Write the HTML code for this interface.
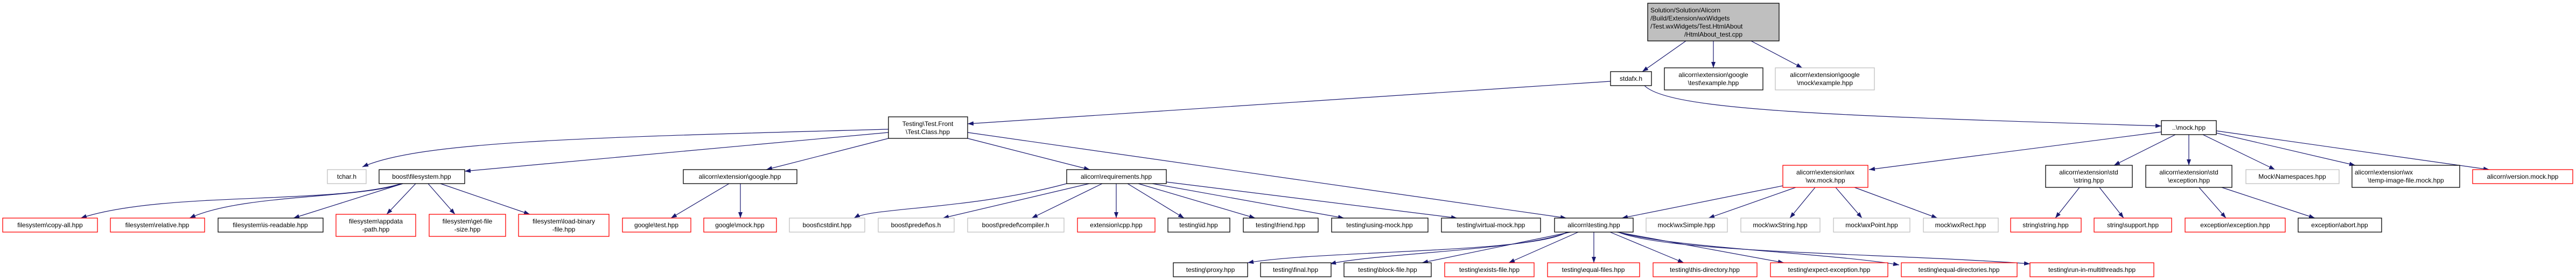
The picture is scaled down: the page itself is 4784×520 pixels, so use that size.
<!DOCTYPE html>
<html><head><meta charset="utf-8"><style>
html,body{margin:0;padding:0;background:#fff;width:4784px;height:520px;overflow:hidden}
svg text{font-family:"Liberation Sans",sans-serif;font-size:12px;fill:#000;text-anchor:middle}
.k{fill:#fff;stroke:#000;stroke-width:1.3}
.r{fill:#fff;stroke:#ff0000;stroke-width:1.3}
.g{fill:#fff;stroke:#bfbfbf;stroke-width:1.3}
.e{fill:none;stroke:#191970;stroke-width:1.2}
</style></head><body>
<svg width="4784" height="520" viewBox="0 0 4784 520" xmlns="http://www.w3.org/2000/svg">
<defs><marker id="a" markerUnits="userSpaceOnUse" markerWidth="12" markerHeight="10" refX="11" refY="4" orient="auto"><path d="M0,0 L11,4 L0,8 z" fill="#191970"/></marker></defs>
<g class="e" marker-end="url(#a)">
<path d="M3131,76 L3050,133"/>
<path d="M3182,76 L3182,126"/>
<path d="M3252,76 L3347,126"/>
<path d="M2991,151 L1797,230"/>
<path d="M3054,159 C3100,205 3400,215 4014,234"/>
<path d="M1650,240 C1100,255 780,262 673,310"/>
<path d="M1650,246 L863,318"/>
<path d="M1650,257 L1423,315"/>
<path d="M1797,257 L2024,315"/>
<path d="M1797,246 L2909,405"/>
<path d="M745,341 C620,380 300,355 150,405"/>
<path d="M748,341 C660,370 450,360 352,405"/>
<path d="M748,341 L545,405"/>
<path d="M772,341 L718,398"/>
<path d="M795,341 L845,398"/>
<path d="M818,341 L984,398"/>
<path d="M1354,341 L1246,405"/>
<path d="M1375,341 L1375,405"/>
<path d="M1981,341 C1800,390 1620,385 1586,405"/>
<path d="M2023,341 L1751,405"/>
<path d="M2047,341 L1916,405"/>
<path d="M2073,341 L2073,405"/>
<path d="M2094,341 L2199,405"/>
<path d="M2114,341 L2331,405"/>
<path d="M2140,341 L2496,405"/>
<path d="M2166,338 L2706,405"/>
<path d="M4014,245 L3471,315"/>
<path d="M4040,250 L3926,307"/>
<path d="M4065,250 L4065,307"/>
<path d="M4091,250 L4225,315"/>
<path d="M4116,247 L4374,307"/>
<path d="M4116,243 L4623,315"/>
<path d="M3311,345 L3012,405"/>
<path d="M3335,348 L3173,405"/>
<path d="M3371,348 L3324,405"/>
<path d="M3409,348 L3458,405"/>
<path d="M3444,348 L3598,405"/>
<path d="M3862,348 L3817,405"/>
<path d="M3899,348 L3944,405"/>
<path d="M4084,348 L4134,405"/>
<path d="M4126,348 L4299,405"/>
<path d="M2910,431 C2850,470 2450,465 2317,488"/>
<path d="M2913,431 C2830,465 2560,470 2470,490"/>
<path d="M2917,431 L2641,488"/>
<path d="M2931,431 L2802,488"/>
<path d="M2960,431 L2960,488"/>
<path d="M2990,431 L3127,488"/>
<path d="M3003,431 L3313,488"/>
<path d="M3005,431 C3100,460 3400,470 3527,492"/>
<path d="M3005,431 C3100,470 3500,470 3770,490"/>
</g>
<!-- top -->
<rect x="3060" y="6" width="244" height="70" fill="#bfbfbf" stroke="#000" stroke-width="1.3"/>
<text x="3182" y="23" style="text-anchor:start" transform="translate(-117,0)">Solution/Solution/Alicorn</text>
<text x="3065" y="38" style="text-anchor:start">/Build/Extension/wxWidgets</text>
<text x="3065" y="53" style="text-anchor:start">/Test.wxWidgets/Test.HtmlAbout</text>
<text x="3182" y="68">/HtmlAbout_test.cpp</text>
<!-- row2 -->
<rect class="k" x="2991" y="133" width="76" height="26"/><text x="3029" y="150">stdafx.h</text>
<rect class="k" x="3091" y="126" width="183" height="41"/><text x="3182" y="143">alicorn\extension\google</text><text x="3182" y="158">\test\example.hpp</text>
<rect class="g" x="3297" y="126" width="184" height="41"/><text x="3389" y="143">alicorn\extension\google</text><text x="3389" y="158">\mock\example.hpp</text>
<!-- row3 -->
<rect class="k" x="1650" y="217" width="147" height="40"/><text x="1723" y="234">Testing\Test.Front</text><text x="1723" y="249">\Test.Class.hpp</text>
<rect class="k" x="4014" y="224" width="102" height="26"/><text x="4065" y="241">..\mock.hpp</text>
<!-- row4 -->
<rect class="g" x="608" y="315" width="72" height="26"/><text x="644" y="332">tchar.h</text>
<rect class="k" x="704" y="315" width="159" height="26"/><text x="783" y="332">boost\filesystem.hpp</text>
<rect class="k" x="1269" y="315" width="211" height="26"/><text x="1374" y="332">alicorn\extension\google.hpp</text>
<rect class="k" x="1981" y="315" width="185" height="26"/><text x="2073" y="332">alicorn\requirements.hpp</text>
<rect class="r" x="3311" y="307" width="158" height="41"/><text x="3390" y="324">alicorn\extension\wx</text><text x="3390" y="339">\wx.mock.hpp</text>
<rect class="k" x="3799" y="307" width="161" height="41"/><text x="3879" y="324">alicorn\extension\std</text><text x="3879" y="339">\string.hpp</text>
<rect class="k" x="3985" y="307" width="160" height="41"/><text x="4065" y="324">alicorn\extension\std</text><text x="4065" y="339">\exception.hpp</text>
<rect class="g" x="4171" y="315" width="173" height="26"/><text x="4257" y="332">Mock\Namespaces.hpp</text>
<rect class="k" x="4368" y="307" width="200" height="41"/><text x="4373" y="324" style="text-anchor:start">alicorn\extension\wx</text><text x="4468" y="339">\temp-image-file.mock.hpp</text>
<rect class="r" x="4592" y="315" width="186" height="26"/><text x="4685" y="332">alicorn\version.mock.hpp</text>
<!-- row5 -->
<rect class="r" x="5" y="405" width="176" height="26"/><text x="93" y="422">filesystem\copy-all.hpp</text>
<rect class="r" x="205" y="405" width="175" height="26"/><text x="292" y="422">filesystem\relative.hpp</text>
<rect class="k" x="405" y="405" width="195" height="26"/><text x="502" y="422">filesystem\is-readable.hpp</text>
<rect class="r" x="624" y="398" width="148" height="41"/><text x="698" y="415">filesystem\appdata</text><text x="698" y="430">-path.hpp</text>
<rect class="r" x="797" y="398" width="142" height="41"/><text x="868" y="415">filesystem\get-file</text><text x="868" y="430">-size.hpp</text>
<rect class="r" x="963" y="398" width="168" height="41"/><text x="1047" y="415">filesystem\load-binary</text><text x="1047" y="430">-file.hpp</text>
<rect class="r" x="1156" y="405" width="127" height="26"/><text x="1219" y="422">google\test.hpp</text>
<rect class="r" x="1307" y="405" width="135" height="26"/><text x="1374" y="422">google\mock.hpp</text>
<rect class="g" x="1466" y="405" width="140" height="26"/><text x="1536" y="422">boost\cstdint.hpp</text>
<rect class="g" x="1631" y="405" width="141" height="26"/><text x="1701" y="422">boost\predef\os.h</text>
<rect class="g" x="1797" y="405" width="179" height="26"/><text x="1886" y="422">boost\predef\compiler.h</text>
<rect class="r" x="2001" y="405" width="144" height="26"/><text x="2073" y="422">extension\cpp.hpp</text>
<rect class="k" x="2169" y="405" width="115" height="26"/><text x="2226" y="422">testing\id.hpp</text>
<rect class="k" x="2309" y="405" width="139" height="26"/><text x="2378" y="422">testing\friend.hpp</text>
<rect class="k" x="2473" y="405" width="179" height="26"/><text x="2562" y="422">testing\using-mock.hpp</text>
<rect class="k" x="2677" y="405" width="184" height="26"/><text x="2769" y="422">testing\virtual-mock.hpp</text>
<rect class="k" x="2887" y="405" width="146" height="26"/><text x="2960" y="422">alicorn\testing.hpp</text>
<rect class="g" x="3057" y="405" width="151" height="26"/><text x="3132" y="422">mock\wxSimple.hpp</text>
<rect class="g" x="3233" y="405" width="147" height="26"/><text x="3306" y="422">mock\wxString.hpp</text>
<rect class="g" x="3405" y="405" width="142" height="26"/><text x="3476" y="422">mock\wxPoint.hpp</text>
<rect class="g" x="3572" y="405" width="139" height="26"/><text x="3641" y="422">mock\wxRect.hpp</text>
<rect class="r" x="3734" y="405" width="131" height="26"/><text x="3799" y="422">string\string.hpp</text>
<rect class="r" x="3889" y="405" width="144" height="26"/><text x="3961" y="422">string\support.hpp</text>
<rect class="r" x="4058" y="405" width="186" height="26"/><text x="4151" y="422">exception\exception.hpp</text>
<rect class="k" x="4268" y="405" width="155" height="26"/><text x="4345" y="422">exception\abort.hpp</text>
<!-- row6 -->
<rect class="k" x="2179" y="488" width="138" height="26"/><text x="2248" y="505">testing\proxy.hpp</text>
<rect class="k" x="2341" y="488" width="131" height="26"/><text x="2406" y="505">testing\final.hpp</text>
<rect class="k" x="2496" y="488" width="162" height="26"/><text x="2577" y="505">testing\block-file.hpp</text>
<rect class="r" x="2683" y="488" width="166" height="26"/><text x="2766" y="505">testing\exists-file.hpp</text>
<rect class="r" x="2874" y="488" width="171" height="26"/><text x="2959" y="505">testing\equal-files.hpp</text>
<rect class="r" x="3070" y="488" width="193" height="26"/><text x="3166" y="505">testing\this-directory.hpp</text>
<rect class="r" x="3288" y="488" width="218" height="26"/><text x="3397" y="505">testing\expect-exception.hpp</text>
<rect class="r" x="3531" y="488" width="215" height="26"/><text x="3638" y="505">testing\equal-directories.hpp</text>
<rect class="r" x="3770" y="488" width="230" height="26"/><text x="3885" y="505">testing\run-in-multithreads.hpp</text>
</svg>
</body></html>
